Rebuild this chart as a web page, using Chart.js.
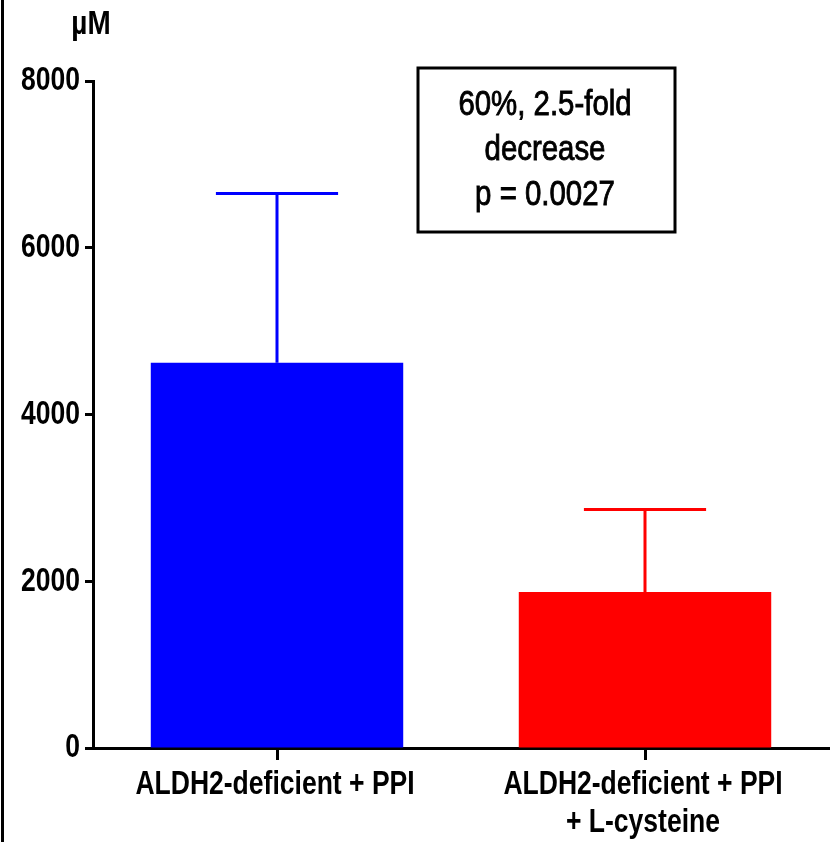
<!DOCTYPE html>
<html>
<head>
<meta charset="utf-8">
<script src="https://cdn.jsdelivr.net/npm/chart.js@4"></script>
<style>
  html, body { margin: 0; padding: 0; background: #fff; }
  #wrap { width: 831px; height: 842px; }
</style>
</head>
<body>
<div id="wrap"><canvas id="chart" width="831" height="842"></canvas></div>
<script>
// data
const categories = ['ALDH2-deficient + PPI', ['ALDH2-deficient + PPI', '+ L-cysteine']];
const means = [4620, 1870];
const sds = [2030, 990];
const barColors = ['#0000ff', '#ff0000'];
const yMax = 8000;
const yStep = 2000;
const unitLabel = '\u00b5M';
const noteLines = ['60%, 2.5-fold', 'decrease', 'p = 0.0027'];

const FONT = '"Liberation Sans", Arial, sans-serif';
const NARROW = 0.78;   // no narrow font installed, squeeze horizontally

function narrowText(ctx, text, x, y, align, sx, stroke) {
    ctx.save();
    ctx.translate(x, y);
    ctx.scale(sx, 1);
    ctx.textAlign = align;
    ctx.fillText(text, 0, 0);
    if (stroke) {
        ctx.lineWidth = stroke;
        ctx.strokeStyle = ctx.fillStyle;
        ctx.strokeText(text, 0, 0);
    }
    ctx.restore();
}

// upper error bars (mean + SD)
const errorBars = {
    id: 'errorBars',
    afterDatasetsDraw(chart) {
        const ctx = chart.ctx;
        const y = chart.scales.y;
        const meta = chart.getDatasetMeta(0);
        meta.data.forEach((bar, i) => {
            const top = y.getPixelForValue(means[i] + sds[i]);
            const half = bar.width * 0.242;
            ctx.save();
            ctx.strokeStyle = barColors[i];
            ctx.lineWidth = 3;
            ctx.beginPath();
            ctx.moveTo(bar.x, bar.y);
            ctx.lineTo(bar.x, top);
            ctx.moveTo(bar.x - half, top);
            ctx.lineTo(bar.x + half, top);
            ctx.stroke();
            ctx.restore();
        });
    }
};

// tick labels in condensed type, unit label, stats box, left frame line
const extras = {
    id: 'extras',
    afterDraw(chart) {
        const ctx = chart.ctx;
        const xs = chart.scales.x;
        const ys = chart.scales.y;
        ctx.save();
        ctx.fillStyle = '#000';
        ctx.fillRect(1, 0, 3, chart.height);
        ctx.textBaseline = 'middle';

        ctx.font = 'bold 34px ' + FONT;
        ys.ticks.forEach((t, i) => {
            narrowText(ctx, String(t.value), 80, ys.getPixelForTick(i), 'right', NARROW);
        });

        categories.forEach((lab, i) => {
            const lines = Array.isArray(lab) ? lab : [lab];
            const cx = xs.getPixelForTick(i) - 2;
            lines.forEach((ln, j) => {
                narrowText(ctx, ln, cx, 785 + j * 38, 'center', NARROW);
            });
        });

        narrowText(ctx, unitLabel, 91, 25, 'center', 0.82);

        ctx.lineWidth = 3;
        ctx.strokeStyle = '#000';
        ctx.strokeRect(418, 68, 257, 164);
        ctx.font = '35px ' + FONT;
        noteLines.forEach((t, i) => {
            narrowText(ctx, t, 545, 105 + i * 45, 'center', 0.84, 0.9);
        });
        ctx.restore();
    }
};

const chart = new Chart(document.getElementById('chart'), {
    type: 'bar',
    data: {
        labels: categories,
        datasets: [{
            data: means,
            backgroundColor: barColors,
            borderWidth: 0,
            barPercentage: 0.686,
            categoryPercentage: 1
        }]
    },
    options: {
        responsive: false,
        animation: false,
        layout: { padding: { top: 81, right: 2, left: 0, bottom: 0 } },
        plugins: {
            legend: { display: false },
            tooltip: { enabled: false }
        },
        scales: {
            x: {
                afterFit(scale) { scale.height = 94; },
                grid: {
                    display: true,
                    drawOnChartArea: false,
                    offset: false,
                    tickLength: 12,
                    tickWidth: 3,
                    tickColor: '#000'
                },
                border: { display: true, color: '#000', width: 3 },
                ticks: { display: false, autoSkip: false }
            },
            y: {
                min: 0,
                max: yMax,
                afterFit(scale) { scale.width = 93; },
                grid: {
                    display: true,
                    drawOnChartArea: false,
                    tickLength: 8,
                    tickWidth: 3,
                    tickColor: '#000'
                },
                border: { display: true, color: '#000', width: 3 },
                ticks: { display: false, stepSize: yStep }
            }
        }
    },
    plugins: [errorBars, extras]
});
</script>
</body>
</html>
